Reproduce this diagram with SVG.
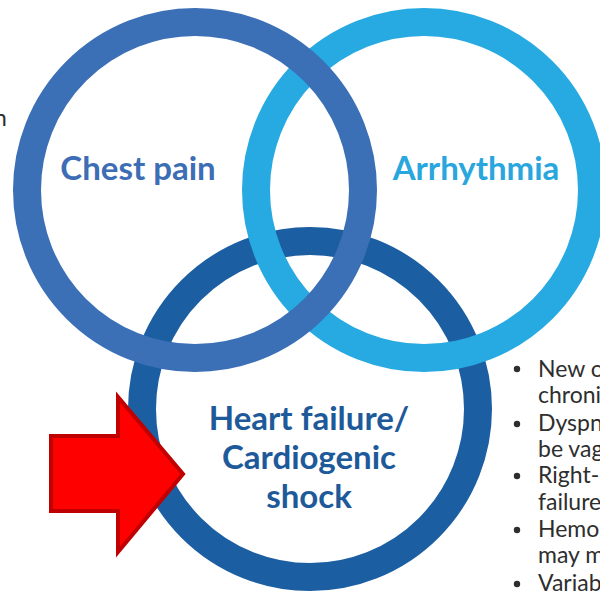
<svg xmlns="http://www.w3.org/2000/svg" width="600" height="592" viewBox="0 0 600 592">
<style>
.ring{fill:none;stroke-width:28}
.lbl{font-family:Lato,"Noto Sans","Liberation Sans",sans-serif;font-weight:bold;font-size:33px;text-anchor:middle}
.body{font-family:Lato,"Noto Sans","Liberation Sans",sans-serif;font-size:23px;fill:#2e2e2e}
</style>
<rect width="600" height="592" fill="#ffffff"/>
<text class="body" x="-6" y="126">n</text>
<g id="heart-failure">
<circle class="ring" cx="310" cy="409" r="168" stroke="#1c5ea2"/>
<text class="lbl" fill="#1e5a9a"><tspan x="309" y="430">Heart failure/</tspan><tspan x="309" y="469">Cardiogenic</tspan><tspan x="309" y="508">shock</tspan></text>
</g>
<g id="arrhythmia">
<circle class="ring" cx="424" cy="190" r="168" stroke="#27aae1"/>
<text class="lbl" fill="#29a6dd" x="476" y="180">Arrhythmia</text>
</g>
<g id="chest-pain">
<circle class="ring" cx="195" cy="190" r="168" stroke="#3b6fb6"/>
<text class="lbl" fill="#3d6db4" x="138" y="180">Chest pain</text>
</g>
<g id="connectors">
<polygon id="arrow" points="51,436 118,436 118,397 183,474 118,552 118,511 51,511" fill="#ff0000" stroke="#c00000" stroke-width="4" stroke-linejoin="miter"/>
</g>
<g id="bullets" class="body">
<circle cx="517" cy="369" r="3.2" fill="#2e2e2e"/>
<text x="538" y="377">New o</text>
<text x="538" y="403">chroni</text>
<circle cx="517" cy="424" r="3.2" fill="#2e2e2e"/>
<text x="538" y="431">Dyspn</text>
<text x="538" y="457">be vag</text>
<circle cx="517" cy="476" r="3.2" fill="#2e2e2e"/>
<text x="538" y="483">Right-</text>
<text x="538" y="510">failure</text>
<circle cx="517" cy="530" r="3.2" fill="#2e2e2e"/>
<text x="538" y="537">Hemo</text>
<text x="538" y="563">may m</text>
<circle cx="517" cy="584" r="3.2" fill="#2e2e2e"/>
<text x="538" y="591">Variab</text>
</g>
</svg>
